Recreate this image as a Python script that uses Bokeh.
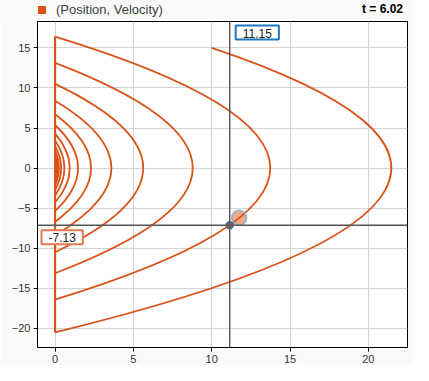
import numpy as np
from bokeh.plotting import figure
from bokeh.layouts import column
from bokeh.models import Label, Range1d, FixedTicker, Span, Div
from bokeh.embed import file_html
from bokeh.resources import INLINE

# ---- data ----
start_pos = 10.0          # first visible point (position)
start_vel = 15.0          # first visible point (velocity)
first_apex = 21.47        # max position of first arc
first_impact = -20.52     # velocity at first impact
bounce_speeds = [16.42, 13.13, 10.51, 8.40, 6.72, 5.38, 4.30, 3.44, 2.75,
                 2.20, 1.76, 1.41, 1.13, 0.90, 0.72, 0.58, 0.46]
bounce_apex = [13.74, 8.79, 5.63, 3.60, 2.30, 1.47, 0.94, 0.60, 0.39,
               0.25, 0.16, 0.10, 0.065, 0.041, 0.026, 0.017, 0.011]
cursor_x = 11.15
cursor_y = -7.13
hover_x = 11.75
hover_y = -6.2
time_label = "t = 6.02"
series_name = "(Position, Velocity)"
x_ticks = [0, 5, 10, 15, 20]
y_ticks = [-20, -15, -10, -5, 0, 5, 10, 15]

ORANGE = "#D95319"
BLUE = "#1f77c0"
FONT = "Liberation Sans"
BG = "#f9f9f9"
X0, X1 = -1.12, 22.5
Y0, Y1 = -22.4, 18.3
W = 413

header = Div(
    text=(
        f'<div style="display:flex;justify-content:space-between;'
        f'align-items:center;width:{W}px;height:20px;background:{BG};'
        f'font-family:\'{FONT}\';">'
        f'<span style="padding-left:38px;font-size:13px;color:#404040;'
        f'display:flex;align-items:center;">'
        f'<span style="display:inline-block;width:8px;height:8px;'
        f'background:{ORANGE};margin-right:10px;"></span>{series_name}</span>'
        f'<span style="padding-right:10px;font-size:12px;font-weight:bold;'
        f'color:black;">{time_label}</span></div>'
    ),
    width=W, height=20, margin=(0, 0, 0, 0),
    styles={"background-color": BG},
)

p = figure(width=W, height=345,
           x_range=Range1d(X0, X1), y_range=Range1d(Y0, Y1),
           output_backend="svg", toolbar_location=None,
           min_border_left=37, min_border_right=6,
           min_border_top=1, min_border_bottom=16)
p.background_fill_color = "white"
p.border_fill_color = BG
p.outline_line_color = "black"
p.outline_line_width = 1

for ax in (p.xaxis, p.yaxis):
    ax.major_label_text_font = FONT
    ax.major_label_text_font_size = "11px"
    ax.major_label_text_color = "#333333"
    ax.major_tick_out = 4
    ax.major_tick_in = 0
    ax.minor_tick_out = 0
    ax.minor_tick_in = 0
    ax.major_label_standoff = 3
    ax.axis_line_color = "black"
    ax.major_tick_line_color = "black"
p.xaxis.ticker = FixedTicker(ticks=x_ticks)
p.yaxis.ticker = FixedTicker(ticks=y_ticks)
p.grid.grid_line_color = "#d4d4d4"
p.xgrid.ticker = FixedTicker(ticks=x_ticks)
p.ygrid.ticker = FixedTicker(ticks=y_ticks)

# first (partial) arc as a parabola segment: quadratic bezier
g = start_vel ** 2 / (2 * (first_apex - start_pos))
cy0 = (start_vel + first_impact) / 2
cx0 = start_pos - (start_vel / g) * (cy0 - start_vel)
p.quadratic(x0=[start_pos], y0=[start_vel], x1=[0], y1=[first_impact],
            cx=[cx0], cy=[cy0], line_color=ORANGE, line_width=1.8)

# following arcs: full parabolas between (0, v) and (0, -v)
n = len(bounce_speeds)
p.quadratic(x0=[0] * n, y0=bounce_speeds, x1=[0] * n,
            y1=[-v for v in bounce_speeds],
            cx=[2 * a for a in bounce_apex], cy=[0] * n,
            line_color=ORANGE, line_width=1.8)

# bounce jumps at position 0
p.segment(x0=[0], y0=[first_impact], x1=[0], y1=[bounce_speeds[0]],
          line_color=ORANGE, line_width=2.2)

# crosshair
p.add_layout(Span(location=cursor_x, dimension="height",
                  line_color="#555555", line_width=1.4))
p.add_layout(Span(location=cursor_y, dimension="width",
                  line_color="#555555", line_width=1.4))

# hover highlight + cursor point
p.scatter([hover_x], [hover_y], size=15, fill_color=ORANGE, fill_alpha=0.5,
          line_color="#7fb0dc", line_width=1.5, line_alpha=0.8)
p.scatter([cursor_x], [cursor_y], size=7, fill_color=ORANGE,
          line_color=BLUE, line_width=1.5)

# crosshair value labels
pad = dict(left=7, right=7, top=3, bottom=2)
p.add_layout(Label(x=cursor_x, y=Y1, x_offset=6, y_offset=-4,
                   text=f"{cursor_x:.2f}", text_align="left",
                   text_baseline="top", text_font=FONT,
                   text_font_size="12px", text_color="#222222",
                   background_fill_color="white",
                   border_line_color=BLUE, border_line_width=2,
                   padding=pad))
p.add_layout(Label(x=X0, y=cursor_y, x_offset=4, y_offset=-5,
                   text=f"{cursor_y:.2f}", text_align="left",
                   text_baseline="top", text_font=FONT,
                   text_font_size="12px", text_color="#222222",
                   background_fill_color="white",
                   border_line_color="#e07a50", border_line_width=2,
                   padding=pad))

layout = column(header, p, spacing=0)
open("out.html", "w").write(file_html(layout, INLINE))
